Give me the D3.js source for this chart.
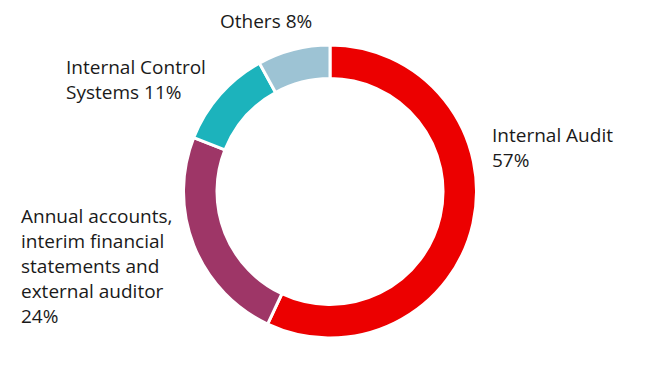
<!DOCTYPE html>
<html>
<head>
<meta charset="utf-8">
<script src="https://cdn.jsdelivr.net/npm/d3@7"></script>
<style>
  html, body { margin: 0; padding: 0; background: #fff; }
  svg { display: block; }
  text { font-family: "Open Sans", "Noto Sans", sans-serif; font-size: 19px; fill: #1a1a1a; }
</style>
</head>
<body>
<svg id="chart" width="660" height="382"></svg>
<script>
const categories = ["Internal Audit", "Annual accounts, interim financial statements and external auditor", "Internal Control Systems", "Others"];
const values = [57, 24, 11, 8];
const colors = ["#EC0000", "#9E3667", "#1CB3BC", "#9DC3D4"];
const labelLines = [
  ["Internal Audit", "57%"],
  ["Annual accounts,", "interim financial", "statements and", "external auditor", "24%"],
  ["Internal Control", "Systems 11%"],
  ["Others 8%"]
];

const svg = d3.select("#chart");
const cx = 330, cy = 191.5, outerR = 146.5, innerR = 113;

const pie = d3.pie().sort(null).value(d => d)(values);
const arc = d3.arc().innerRadius(innerR).outerRadius(outerR);

const g = svg.append("g").attr("transform", `translate(${cx},${cy})`);
g.selectAll("path")
  .data(pie)
  .join("path")
  .attr("d", arc)
  .attr("fill", (d, i) => colors[i])
  .attr("stroke", "#fff")
  .attr("stroke-width", 3)
  .attr("stroke-linejoin", "miter");

// label anchors (left x, first baseline)
const labelPos = [
  { x: 492, y: 142 },
  { x: 21, y: 223 },
  { x: 66, y: 74 },
  { x: 220, y: 28 }
];
const lineH = 25;

labelLines.forEach((lines, i) => {
  const t = svg.append("text")
    .attr("x", labelPos[i].x)
    .attr("y", labelPos[i].y);
  lines.forEach((ln, j) => {
    t.append("tspan")
      .attr("x", labelPos[i].x)
      .attr("y", labelPos[i].y + j * lineH)
      .text(ln);
  });
});
</script>
</body>
</html>
